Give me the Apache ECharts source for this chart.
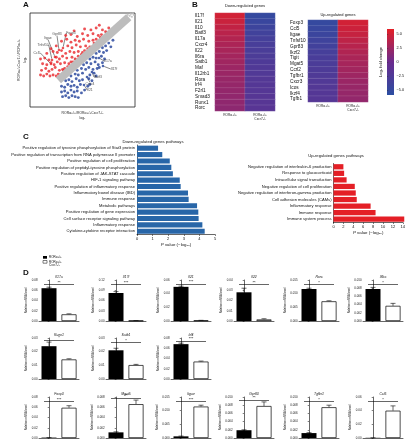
<!DOCTYPE html>
<html><head><meta charset="utf-8">
<script src="https://cdn.jsdelivr.net/npm/echarts@6/dist/echarts.min.js"></script>
<style>html,body{margin:0;padding:0;background:#fff}#c{width:408px;height:440px}</style>
</head><body><div id="c"></div>
<script>
// ---------- Panel A data (log2 values) ----------
const redPoints = [[1.0,3.4],[1.3,3.3],[1.6,3.5],[1.9,3.3],[2.2,3.4],[2.5,3.3],[2.7,3.5],
[1.1,3.9],[1.5,4.1],[1.8,3.8],[2.1,4.0],[2.4,4.2],[2.8,3.9],[3.1,4.0],[3.3,4.1],
[1.2,4.6],[1.6,4.5],[2.0,4.7],[2.3,4.5],[2.6,4.8],[2.9,4.6],[3.3,4.7],[3.7,4.6],[3.9,4.8],
[1.0,5.1],[1.4,5.2],[1.8,5.0],[2.5,5.3],[2.8,5.1],[3.1,5.4],[3.5,5.2],[4.0,5.3],[4.3,5.1],[4.6,5.4],
[1.6,5.7],[2.2,5.9],[2.6,5.8],[3.0,6.0],[3.4,5.7],[3.8,5.9],[4.2,5.8],[4.6,5.9],[5.0,5.8],[5.2,6.0],
[2.0,6.2],[2.5,6.5],[3.6,6.5],[4.0,6.3],[4.4,6.6],[4.8,6.4],[5.3,6.5],[5.7,6.4],
[3.0,7.0],[3.5,7.2],[3.9,6.9],[4.3,7.1],[4.7,7.0],[5.1,7.2],[5.6,7.0],[6.0,7.1],[6.3,7.2],
[3.4,7.6],[3.9,7.7],[4.5,7.5],[5.0,7.8],[5.5,7.6],[6.0,7.8],[6.5,7.6],[6.8,7.7],
[4.2,8.1],[5.2,8.3],[5.8,8.2],[6.3,8.4],[6.9,8.2],[7.2,8.0],[7.5,8.4],[6.6,8.7],
[3.2,3.9],[3.6,4.3],[4.1,4.8],[4.4,5.0],[4.9,5.6],[5.5,6.2],[6.1,6.8],[6.7,7.4],[7.3,7.9]];
const bluePoints = [[3.1,1.1],[3.4,1.2],[3.7,1.0],[4.0,1.2],[4.3,1.1],[4.6,1.0],
[3.0,1.6],[3.3,1.7],[3.6,1.5],[3.9,1.8],[4.2,1.6],[4.5,1.7],[4.9,1.5],[5.2,1.8],
[3.0,2.2],[3.3,2.1],[3.6,2.4],[3.9,2.2],[4.2,2.3],[4.5,2.1],[4.8,2.4],[5.5,2.2],[5.7,2.4],
[3.4,2.8],[3.7,2.9],[4.0,2.7],[4.4,3.0],[4.7,2.8],[5.0,2.9],[5.6,3.0],[5.9,2.8],
[3.9,3.3],[4.3,3.5],[4.6,3.4],[5.0,3.6],[5.7,3.4],[6.1,3.6],[6.3,3.3],
[4.5,3.9],[4.9,4.1],[5.3,4.0],[5.6,4.2],[6.0,4.0],[6.4,4.1],[6.6,4.2],
[5.1,4.5],[5.4,4.7],[5.8,4.6],[6.2,4.8],[6.5,4.5],[6.9,4.7],
[5.7,5.1],[6.0,5.3],[6.3,5.2],[6.8,5.4],[7.1,5.1],
[6.3,5.7],[6.6,5.9],[7.0,5.8],[7.3,6.0],
[6.9,6.3],[7.2,6.5],[7.5,6.8],[7.7,6.4],[7.9,7.1]];
const grayBand = [[2.7,2.85],[9.4,9.55]];
const grayTail = [[9.5,9.7],[9.6,9.9],[9.7,9.6],[9.3,9.8],[9.8,9.95],[9.9,9.8]];
const labeledGenes = ['Foxp3','Gpr83','Itgae','Tnfsf10','Ccl5','Il17a','Il17f','Batf3','Cxcr4','Il21'];
const labeledX = [3.14,2.76,2.38,2.10,2.00,6.57,6.95,5.90,5.43,5.14];
const labeledY = [6.28,6.06,5.32,5.00,4.57,5.21,4.36,3.72,3.19,2.34];

// ---------- Panel B data (log2 fold change) ----------
const heatCols = ['RORα+/+', 'RORα+/+\nCxcr7-/-'];
const downGenes = ['Il17f','Il21','Il10','Batf3','Il17a','Cxcr4','Il22','Il6ra','Satb1','Maf','Il12rb1','Rora','Irf4','F2rl1','Smad3','Runx1','Rorc'];
const downWT = [5.0,4.6,4.2,3.8,3.5,3.2,3.0,2.8,2.6,2.4,2.3,2.2,2.1,2.0,1.9,1.8,1.7];
const downKO = [-5.0,-4.6,-4.2,-3.8,-3.5,-3.2,-3.0,-2.8,-2.6,-2.4,-2.3,-2.2,-2.1,-2.0,-1.9,-1.8,-1.7];
const upGenes = ['Foxp3','Ccl5','Itgae','Tnfsf10','Gpr83','Ikzf2','Tigit','Mgat5','Ccrl2','Tgfbr1','Cxcr3','Icos','Ikzf4','Tgfb1'];
const upWT = [-5.0,-4.7,-4.4,-4.0,-3.7,-3.4,-3.1,-2.9,-2.7,-2.5,-2.3,-2.2,-2.1,-2.0];
const upKO = [5.0,4.7,4.4,4.0,3.7,3.4,3.1,2.9,2.7,2.5,2.3,2.2,2.1,2.0];
const colorbarTicks = [5, 2.5, 0, -2.5, -5];

// ---------- Panel C data ----------
const downPathways = ['Positive regulation of tyrosine phosphorylation of Stat3 protein','Positive regulation of transcription from RNA polymerase II promoter','Positive regulation of cell proliferation','Positive regulation of peptidyl-tyrosine phosphorylation','Positive regulation of JAK-STAT cascade','HIF-1 signaling pathway','Positive regulation of inflammatory response','Inflammatory bowel disease (IBD)','Immune response','Metabolic pathways','Positive regulation of gene expression','Cell surface receptor signaling pathway','Inflammatory response','Cytokine-cytokine receptor interaction'];
const downP = [1.35,1.62,2.1,2.2,2.3,2.74,2.8,3.27,3.31,3.85,3.93,3.95,4.19,4.34];
const upPathways = ['Negative regulation of interleukin-6 production','Response to glucocorticoid','Intracellular signal transduction','Negative regulation of cell proliferation','Negative regulation of interferon-gamma production','Cell adhesion molecules (CAMs)','Inflammatory response','Immune response','Immune system process'];
const upP = [2.0,2.15,2.65,4.3,4.5,4.7,7.5,8.5,14.3];

// ---------- Panel D data (relative mRNA level) ----------
const qGenes = ['Il17a','Il17f','Il21','Il22','Rorc','Il6ra','Runx1','Satb1','Irf4','Foxp3','Mgat5','Itgae','Gpr83','Tgfbr1','Ccl5'];
const wtMean = [0.064,0.082,0.050,0.028,0.0117,0.0078,0.024,0.021,0.068,0.0008,0.0011,0.0006,0.0019,0.0012,0.0003];
const wtErr  = [0.002,0.004,0.001,0.004,0.0003,0.0004,0.003,0.0015,0.002,0.0001,0.0001,0.0001,0.0001,0.0001,0.0001];
const koMean = [0.013,0.001,0.0008,0.0015,0.0072,0.0037,0.0143,0.0102,0.034,0.059,0.0066,0.0115,0.0078,0.0075,0.040];
const koErr  = [0.001,0.0003,0.0002,0.0007,0.0002,0.0006,0.0005,0.0005,0.001,0.004,0.0008,0.0005,0.0010,0.0005,0.007];
const yMax   = [0.08,0.12,0.06,0.04,0.015,0.010,0.03,0.03,0.08,0.08,0.008,0.015,0.010,0.010,0.06];
const yStep  = [0.02,0.03,0.02,0.01,0.005,0.002,0.01,0.01,0.02,0.02,0.002,0.005,0.002,0.002,0.02];
const stars  = ['**','***','***','**','*','*','*','*','***','***','**','***','**','*','*'];

// ---------- build ----------
const FONT = '"Liberation Sans", Arial, Helvetica, sans-serif';
const HEAT_COLORS = ['#2b4ea2','#6a2b8e','#e41f26'];
const grids=[], xAxes=[], yAxes=[], series=[], gfx=[];
function addGrid(g){grids.push(g); return grids.length-1;}
const txt = (x,y,text,o={}) => gfx.push({type:'text', x, y, rotation:o.rot||0, silent:true, style:Object.assign({text, fontSize:4, fontFamily:FONT, fill:'#111', align:'center', verticalAlign:'middle'}, o.style||{})});
const hidden = {axisLine:{show:false},axisTick:{show:false},axisLabel:{show:false},splitLine:{show:false}};

// Panel letters
txt(23,5,'A',{style:{fontSize:8,fontWeight:'bold',align:'left'}});
txt(192,5,'B',{style:{fontSize:8,fontWeight:'bold',align:'left'}});
txt(23,137,'C',{style:{fontSize:8,fontWeight:'bold',align:'left'}});
txt(23,273,'D',{style:{fontSize:8,fontWeight:'bold',align:'left'}});

// Panel A
const gA = addGrid({left:30, top:13, width:105, height:94, show:true, borderColor:'#222', borderWidth:0.8});
xAxes.push(Object.assign({gridIndex:gA, type:'value', min:0, max:10, name:'RORα+/+/RORα+/+Cxcr7-/-\nlog₂', nameLocation:'middle', nameGap:4, nameTextStyle:{fontSize:3.4, lineHeight:5, fontFamily:FONT, color:'#222'}}, hidden));
yAxes.push(Object.assign({gridIndex:gA, type:'value', min:0, max:10, name:'RORα+/+Cxcr7-/-/RORα+/+\nlog₂', nameLocation:'middle', nameGap:1.5, nameTextStyle:{fontSize:3.4, lineHeight:6, fontFamily:FONT, color:'#222'}}, hidden));
series.push({type:'scatter', xAxisIndex:gA, yAxisIndex:gA, data:redPoints, symbolSize:2.9, itemStyle:{color:'#e8262b'}, silent:true});
series.push({type:'scatter', xAxisIndex:gA, yAxisIndex:gA, data:bluePoints, symbolSize:2.9, itemStyle:{color:'#1f3f99'}, silent:true});
series.push({type:'line', xAxisIndex:gA, yAxisIndex:gA, data:grayBand, symbol:'none', lineStyle:{color:'#bdbdbd', width:8, cap:'butt'}, silent:true});
series.push({type:'scatter', xAxisIndex:gA, yAxisIndex:gA, data:grayTail, symbolSize:2.2, itemStyle:{color:'#bdbdbd'}, silent:true});
const labelOffsets = [[8,-15],[-2,-16],[-7,-19],[-9,-15],[-14,-11],[9,3],[11,3],[6,5],[3,7],[6,5]];
series.push({type:'scatter', xAxisIndex:gA, yAxisIndex:gA, silent:true, symbolSize:2.6,
  data: labeledGenes.map((g,i)=>({name:g, value:[labeledX[i],labeledY[i]], itemStyle:{color:i<5?'#e8262b':'#1f3f99'}})),
  label:{show:true, formatter:'{b}', fontSize:3.4, fontFamily:FONT, color:'#222', position:'inside'},
  labelLine:{show:true, lineStyle:{color:'#111', width:0.5}},
  labelLayout:(p)=>({dx:labelOffsets[p.dataIndex][0], dy:labelOffsets[p.dataIndex][1]})});

// Panel B heatmaps
const heatIdx = [];
function heat(left, top, width, height, genes, wt, ko, title, titleY, margin){
  const g = addGrid({left, top, width, height});
  xAxes.push({gridIndex:g, type:'category', data:heatCols, axisLine:{show:false}, axisTick:{show:false}, splitLine:{show:false}, axisLabel:{interval:0, fontSize:3.2, lineHeight:4, margin:2, color:'#222', fontFamily:FONT}});
  yAxes.push({gridIndex:g, type:'category', data:genes, inverse:true, axisLine:{show:false}, axisTick:{show:false}, splitLine:{show:false}, axisLabel:{interval:0, fontSize:4.7, align:'left', margin, color:'#111', fontFamily:FONT}});
  const data = [];
  genes.forEach((_,i)=>{data.push([0,i,wt[i]]); data.push([1,i,ko[i]]);});
  heatIdx.push(series.length);
  series.push({type:'heatmap', xAxisIndex:g, yAxisIndex:g, data, silent:true, itemStyle:{borderColor:'rgba(255,255,255,0.3)', borderWidth:0.4}});
  txt(left+width/2, titleY, title, {style:{fontSize:4}});
}
heat(215,13,60,98,downGenes,downWT,downKO,'Down-regulated genes',6,20);
heat(308,20,60,82,upGenes,upWT,upKO,'Up-regulated genes',15,18);
// colorbar
gfx.push({type:'rect', silent:true, shape:{x:387,y:29,width:7,height:66},
  style:{fill:new echarts.graphic.LinearGradient(0,0,0,1,[{offset:0,color:HEAT_COLORS[2]},{offset:0.5,color:HEAT_COLORS[1]},{offset:1,color:HEAT_COLORS[0]}])}});
const gCb = addGrid({left:387, top:29, width:7, height:66});
xAxes.push(Object.assign({gridIndex:gCb, type:'value'}, hidden));
yAxes.push({gridIndex:gCb, type:'value', position:'right', min:-5.9, max:5.9, splitLine:{show:false}, axisLine:{show:false},
  axisTick:{show:true, length:1.2, customValues:colorbarTicks, lineStyle:{color:'#333', width:0.5}},
  axisLabel:{fontSize:3.8, margin:2.5, color:'#111', fontFamily:FONT, customValues:colorbarTicks, formatter:v=> (v===0?'0':v.toFixed(1)).replace('-','−')}});
txt(381,62,'Log₂ fold change',{rot:Math.PI/2, style:{fontSize:4}});

// Panel C
function pathBars(left, top, width, height, cats, vals, max, step, color, title, titleX, titleY){
  const g = addGrid({left, top, width, height});
  xAxes.push({gridIndex:g, type:'value', min:0, max, interval:step, splitLine:{show:false},
    axisLine:{show:true, lineStyle:{color:'#000', width:0.6}}, axisTick:{show:true, length:1.5, lineStyle:{color:'#000', width:0.5}},
    axisLabel:{fontSize:4, margin:2, color:'#111', fontFamily:FONT},
    name:'{i|P} value (−log₁₀)', nameLocation:'middle', nameGap:8.5,
    nameTextStyle:{fontSize:4.4, color:'#111', fontFamily:FONT, rich:{i:{fontStyle:'italic', fontSize:4.4, fontFamily:FONT}}}});
  yAxes.push({gridIndex:g, type:'category', data:cats, inverse:true, splitLine:{show:false},
    axisLine:{show:true, lineStyle:{color:'#000', width:0.6}}, axisTick:{show:false},
    axisLabel:{interval:0, fontSize:4.1, margin:2, color:'#111', fontFamily:FONT}});
  series.push({type:'bar', xAxisIndex:g, yAxisIndex:g, data:vals, barWidth:'80%', clip:false, silent:true, itemStyle:{color}});
  txt(titleX, titleY, title, {style:{fontSize:4.2}});
}
pathBars(137,145,78,89.5,downPathways,downP,5,1,'#2866a8','Down-regulated genes pathways',153,141.5);
pathBars(333.5,163.5,70,59,upPathways,upP,14,2,'#e41f26','Up-regulated genes pathways',336,156);

// Panel D legend
gfx.push({type:'rect', shape:{x:43,y:256,width:4,height:2.7}, style:{fill:'#000'}, silent:true});
gfx.push({type:'rect', shape:{x:43,y:260.5,width:4,height:2.7}, style:{fill:'#fff', stroke:'#000', lineWidth:0.5}, silent:true});
txt(49,257.3,'RORα+/+',{style:{fontSize:3,align:'left'}});
txt(49,261.8,'RORα+/+',{style:{fontSize:3,align:'left'}});
txt(49,265.3,'Cxcr7-/-',{style:{fontSize:3,align:'left'}});

// Panel D charts
const colLefts = [39,106,171,234,299,363];
const rowTops = [280,338,397];
const layoutRC = [[0,0],[0,1],[0,2],[0,3],[0,4],[0,5],[1,0],[1,1],[1,2],[2,0],[2,1],[2,2],[2,3],[2,4],[2,5]];
function decimals(s){const t=String(s); return t.includes('.')?t.split('.')[1].length:0;}
qGenes.forEach((gene,i)=>{
  const [r,c] = layoutRC[i];
  const left = colLefts[c], top = rowTops[r];
  const g = addGrid({left, top, width:40, height:41});
  const dec = Math.max(2, decimals(yStep[i]));
  xAxes.push({gridIndex:g, type:'value', min:-0.5, max:1.5, splitLine:{show:false}, axisLabel:{show:false},
    axisTick:{show:false}, axisLine:{show:true, onZero:false, lineStyle:{color:'#000', width:0.6}}});
  yAxes.push({gridIndex:g, type:'value', min:0, max:yMax[i], interval:yStep[i], splitLine:{show:false},
    axisLine:{show:true, lineStyle:{color:'#000', width:0.6}}, axisTick:{show:true, length:1.3, lineStyle:{color:'#000', width:0.5}},
    axisLabel:{fontSize:2.9, margin:1.5, color:'#111', fontFamily:FONT, formatter:v=>v.toFixed(dec)},
    name:'Relative mRNA level', nameLocation:'middle', nameGap:dec>2?11:9.5, nameTextStyle:{fontSize:2.8, color:'#111', fontFamily:FONT}});
  const topVal = Math.max(wtMean[i]+wtErr[i], koMean[i]+koErr[i]);
  const sig = Math.min(yMax[i]*0.97, Math.max(yMax[i]*0.885, topVal + yMax[i]*0.04));
  series.push({type:'bar', xAxisIndex:g, yAxisIndex:g, barWidth:15, silent:true,
    data:[{value:[0,wtMean[i]], itemStyle:{color:'#000'}}, {value:[1,koMean[i]], itemStyle:{color:'#fff', borderColor:'#000', borderWidth:0.7}}],
    markLine:{silent:true, symbol:'none', lineStyle:{color:'#000', width:0.6, type:'solid'},
      label:{show:true, formatter:stars[i], position:'insideMiddleTop', distance:0.3, fontSize:4, color:'#000', fontFamily:FONT},
      data:[[{coord:[-0.25,sig]},{coord:[1.25,sig]}]]}});
  series.push({type:'custom', xAxisIndex:g, yAxisIndex:g, silent:true,
    data:[[0,wtMean[i],wtErr[i]],[1,koMean[i],koErr[i]]],
    renderItem:(params, api)=>{
      const x=api.value(0), m=api.value(1), e=api.value(2);
      const p1=api.coord([x,m]), p2=api.coord([x,m+e]);
      return {type:'group', children:[
        {type:'line', shape:{x1:p1[0],y1:p1[1],x2:p2[0],y2:p2[1]}, style:{stroke:'#000', lineWidth:0.6}},
        {type:'line', shape:{x1:p2[0]-2.5,y1:p2[1],x2:p2[0]+2.5,y2:p2[1]}, style:{stroke:'#000', lineWidth:0.6}}]};
    }});
  txt(left+20, top-3, gene, {style:{fontSize:3.4, fontStyle:'italic'}});
});

const chart = echarts.init(document.getElementById('c'), null, {renderer:'canvas'});
chart.setOption({
  animation:false,
  backgroundColor:'#fff',
  textStyle:{fontFamily:FONT},
  grid:grids, xAxis:xAxes, yAxis:yAxes, series,
  visualMap:{type:'continuous', show:false, min:-5.9, max:5.9, seriesIndex:heatIdx, inRange:{color:HEAT_COLORS}},
  graphic:gfx
});
</script></body></html>
